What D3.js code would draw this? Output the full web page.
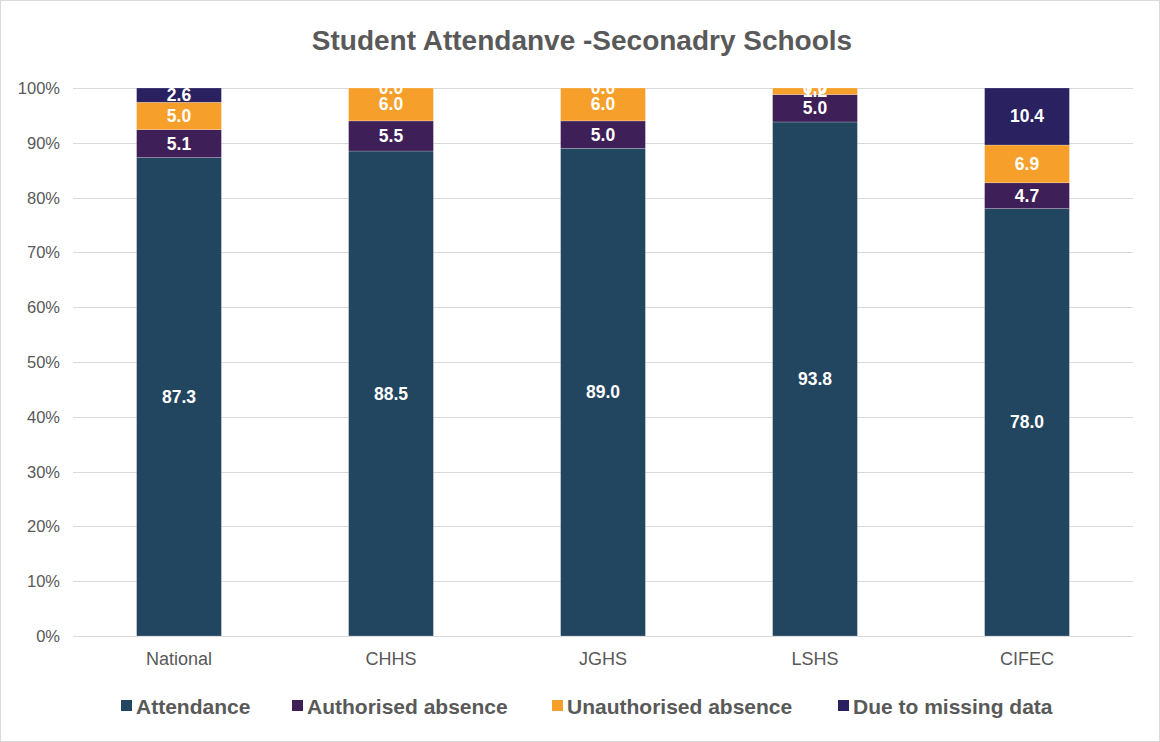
<!DOCTYPE html>
<html>
<head>
<meta charset="utf-8">
<script src="https://cdn.jsdelivr.net/npm/d3@7"></script>
<style>
  html, body { margin: 0; padding: 0; background: #fff; }
  svg { display: block; font-family: 'Liberation Sans', Arial, sans-serif; }
</style>
</head>
<body>
<div id="chart"></div>
<script>
// data
const schools = ['National', 'CHHS', 'JGHS', 'LSHS', 'CIFEC']
const attendance = [87.3, 88.5, 89.0, 93.8, 78.0]
const authorised = [5.1, 5.5, 5.0, 5.0, 4.7]
const unauthorised = [5.0, 6.0, 6.0, 1.2, 6.9]
const missing = [2.6, 0.0, 0.0, 0.0, 10.4]
const seriesNames = ['Attendance', 'Authorised absence', 'Unauthorised absence', 'Due to missing data']
const seriesColors = ['#224560', '#3f1f57', '#f69f2a', '#2a2161']
const yTicks = [0, 10, 20, 30, 40, 50, 60, 70, 80, 90, 100]

const W = 1160
const H = 742
const margin = { top: 88, left: 73, right: 27, bottom: 106 }
const width = W - margin.left - margin.right
const height = H - margin.top - margin.bottom

const svg = d3
  .select('#chart')
  .append('svg')
  .attr('width', W)
  .attr('height', H)

// outer chart border
svg
  .append('rect')
  .attr('x', 0.5)
  .attr('y', 0.5)
  .attr('width', W - 1)
  .attr('height', H - 1)
  .attr('fill', '#fff')
  .attr('stroke', '#d9d9d9')

svg
  .append('text')
  .attr('x', 582)
  .attr('y', 50)
  .attr('text-anchor', 'middle')
  .attr('font-size', 28)
  .attr('font-weight', 'bold')
  .attr('fill', '#595959')
  .text('Student Attendanve -Seconadry Schools')

const g = svg
  .append('g')
  .attr('transform', `translate(${margin.left},${margin.top})`)

g.append('clipPath')
  .attr('id', 'plot-clip')
  .append('rect')
  .attr('width', width)
  .attr('height', height)

const x = d3
  .scaleBand()
  .domain(schools)
  .range([0, width])
  .paddingInner(0.6)
  .paddingOuter(0.3)

const y = d3.scaleLinear().domain([0, 100]).range([height, 0])

// gridlines
g.selectAll('.grid')
  .data(yTicks)
  .enter()
  .append('line')
  .attr('x1', 0)
  .attr('x2', width)
  .attr('y1', d => Math.round(y(d)) + 0.5)
  .attr('y2', d => Math.round(y(d)) + 0.5)
  .attr('stroke', '#d9d9d9')
  .attr('stroke-width', 1)

// y axis labels
g.selectAll('.ylab')
  .data(yTicks)
  .enter()
  .append('text')
  .attr('x', -13)
  .attr('y', d => y(d) + 6)
  .attr('text-anchor', 'end')
  .attr('font-size', 16.5)
  .attr('fill', '#595959')
  .text(d => d + '%')

// stack the series
const rows = schools.map((s, i) => ({
  school: s,
  Attendance: attendance[i],
  'Authorised absence': authorised[i],
  'Unauthorised absence': unauthorised[i],
  'Due to missing data': missing[i]
}))
const stacked = d3.stack().keys(seriesNames)(rows)
const color = d3.scaleOrdinal().domain(seriesNames).range(seriesColors)

const layers = g
  .selectAll('.layer')
  .data(stacked)
  .enter()
  .append('g')
  .attr('fill', d => color(d.key))

layers
  .selectAll('rect')
  .data(d => d)
  .enter()
  .append('rect')
  .attr('x', d => x(d.data.school))
  .attr('width', x.bandwidth())
  .attr('y', d => y(d[1]))
  .attr('height', d => y(d[0]) - y(d[1]))
  .attr('stroke', 'rgba(255,255,255,0.35)')
  .attr('stroke-width', 0.6)

// data labels
const labels = g.append('g').attr('clip-path', 'url(#plot-clip)')
stacked.forEach(layer => {
  labels
    .selectAll(null)
    .data(layer)
    .enter()
    .append('text')
    .attr('x', d => x(d.data.school) + x.bandwidth() / 2)
    .attr('y', d => y((d[0] + d[1]) / 2) + 6)
    .attr('text-anchor', 'middle')
    .attr('font-size', 17.5)
    .attr('font-weight', 'bold')
    .attr('fill', '#fff')
    .text(d => (d[1] - d[0]).toFixed(1))
})

// x axis labels
g.selectAll('.xlab')
  .data(schools)
  .enter()
  .append('text')
  .attr('x', d => x(d) + x.bandwidth() / 2)
  .attr('y', height + 29)
  .attr('text-anchor', 'middle')
  .attr('font-size', 18)
  .attr('fill', '#595959')
  .text(d => d)

// legend
const legendX = [121, 292, 552, 838]
const legend = svg
  .selectAll('.legend')
  .data(seriesNames)
  .enter()
  .append('g')
  .attr('transform', (d, i) => `translate(${legendX[i]},706)`)

legend
  .append('rect')
  .attr('x', 0)
  .attr('y', -6)
  .attr('width', 11)
  .attr('height', 11)
  .attr('fill', d => color(d))

legend
  .append('text')
  .attr('x', 15)
  .attr('y', 7.5)
  .attr('font-size', 21)
  .attr('font-weight', 'bold')
  .attr('fill', '#595959')
  .text(d => d)
</script>
</body>
</html>
